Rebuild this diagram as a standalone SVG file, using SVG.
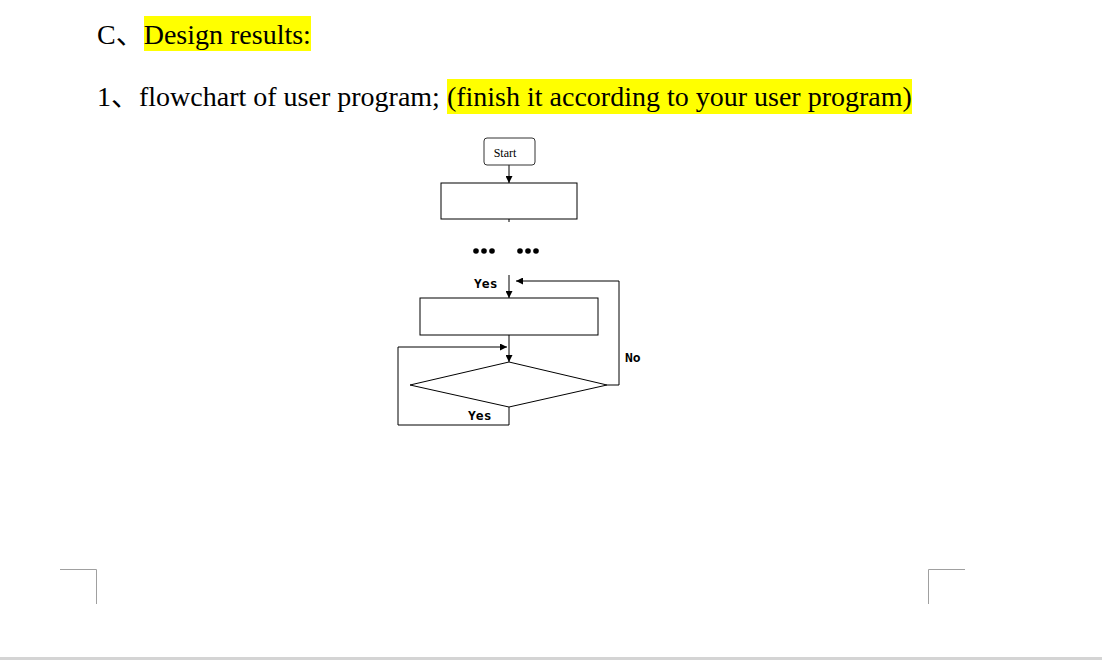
<svg xmlns="http://www.w3.org/2000/svg" width="1102" height="660" viewBox="0 0 1102 660">
<style>
.h{font-family:"Liberation Serif","Noto Sans CJK SC",serif;font-size:28px;fill:#000}
.hl{fill:#ffff00}
.box{fill:#fff;stroke:#000;stroke-width:1}
.ln{fill:none;stroke:#000;stroke-width:1}
.lbl{font-family:"DejaVu Sans Mono","Liberation Mono",monospace;font-size:13px;font-weight:bold;fill:#000}
.corner{fill:none;stroke:#a0a0a0;stroke-width:1}
</style>
<defs>
<marker id="arr" viewBox="0 0 10 10" refX="10" refY="5" markerWidth="7" markerHeight="7" markerUnits="userSpaceOnUse" orient="auto">
<path d="M0,0 L10,5 L0,10 z" fill="#000"/>
</marker>
</defs>
<rect width="1102" height="660" fill="#fff"/>
<g id="heading">
<rect class="hl" x="144" y="16" width="167" height="35"/>
<text class="h" x="97" y="44">C、Design results:</text>
<rect class="hl" x="447" y="79" width="465" height="35"/>
<text class="h" x="97" y="106">1、flowchart of user program; (finish it according to your user program)</text>
</g>
<g id="connectors">
<line class="ln" x1="509" y1="165" x2="509" y2="183" marker-end="url(#arr)"/>
<line class="ln" x1="509" y1="219" x2="509" y2="222"/>
<line class="ln" x1="509" y1="275" x2="509" y2="298" marker-end="url(#arr)"/>
<polyline class="ln" points="607,385 619,385 619,281 516,281" marker-end="url(#arr)"/>
<line class="ln" x1="509" y1="335" x2="509" y2="362" marker-end="url(#arr)"/>
<polyline class="ln" points="509,407 509,425 398,425 398,347 507,347" marker-end="url(#arr)"/>
</g>
<g id="start">
<rect x="484" y="138" width="51" height="27" rx="3" fill="#fff" stroke="#333" stroke-width="1"/>
<text x="505" y="157" font-family="Liberation Serif,serif" font-size="12" text-anchor="middle">Start</text>
</g>
<g id="process1">
<rect class="box" x="441" y="183" width="136" height="36"/>
</g>
<g id="ellipsis">
<circle cx="476" cy="251" r="2.8"/><circle cx="484" cy="251" r="2.8"/><circle cx="492" cy="251" r="2.8"/>
<circle cx="520" cy="251" r="2.8"/><circle cx="528" cy="251" r="2.8"/><circle cx="536" cy="251" r="2.8"/>
</g>
<g id="process2">
<rect class="box" x="420" y="298" width="178" height="37"/>
</g>
<g id="decision">
<polygon class="box" points="509,362 607,385 509,407 410,385"/>
</g>
<g id="labels">
<text class="lbl" x="474" y="288">Yes</text>
<text class="lbl" x="468" y="420">Yes</text>
<text class="lbl" x="625" y="362">No</text>
</g>
<g id="page-marks">
<polyline class="corner" points="60,569.5 96.5,569.5 96.5,604"/>
<polyline class="corner" points="965,569.5 928.5,569.5 928.5,604"/>
<rect x="0" y="657" width="1102" height="3" fill="#d4d4d4"/>
</g>
</svg>
